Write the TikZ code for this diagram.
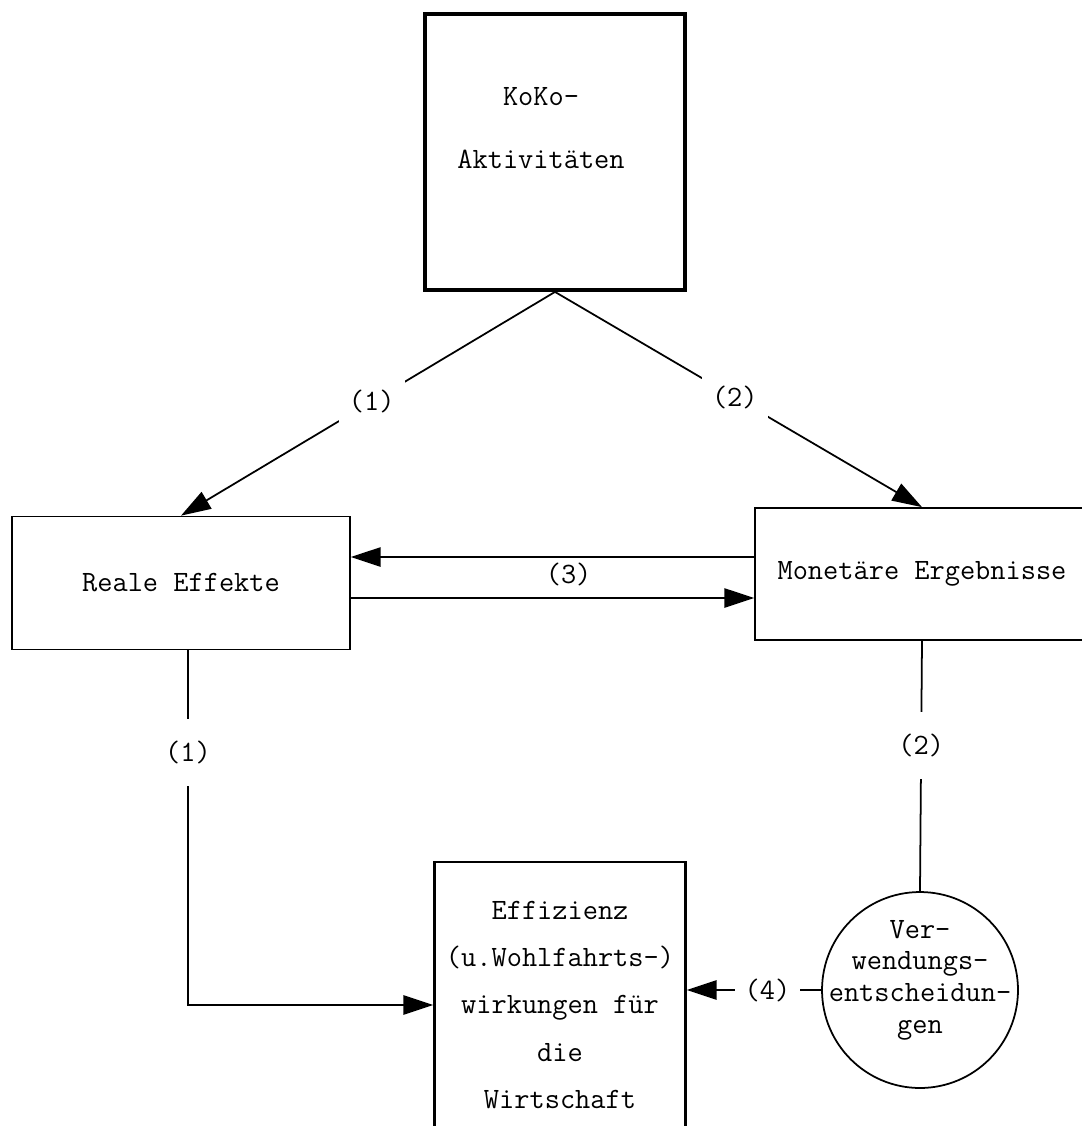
\documentclass[tikz,border=0pt]{standalone}
\usetikzlibrary{arrows.meta,calc}
\newcommand{\twfont}[1]{\ttfamily\fontsize{16.8pt}{#1}\selectfont}
\begin{document}
\begin{tikzpicture}
[x=0.02cm,y=-0.02cm,line width=1pt,%
  every node/.style={font=\twfont{20pt}},%
  box/.style={draw,line width=1pt,inner sep=0pt,align=center},%
  lab/.style={fill=white,inner xsep=0.2cm,inner ysep=0.44cm},%
  >={Triangle[length=17pt,width=11pt]}]
\useasboundingbox (0,0) rectangle (1082,1126);
%%
\node[box,line width=2.2pt,minimum width=5.2cm,minimum height=5.52cm] (koko) at (555,152) {};
\node[align=center,font=\twfont{35.7pt}] (kokotext) at (541,128) {KoKo-\\Aktivitäten};
%%
\node[box,minimum width=6.76cm,minimum height=2.66cm] (real) at (181,583) {Reale Effekte};
\node[box,minimum width=6.68cm,minimum height=2.64cm] (monetaer) at (922,574) {Monetäre Ergebnisse};
%%
\node[box,line width=1.5pt,minimum width=5.02cm,minimum height=5.72cm,font=\twfont{27pt}]
  (effizienz) at (560,1005) {Effizienz\\(u.Wohlfahrts-)\\wirkungen für\\die\\Wirtschaft};
\node[draw,circle,minimum size=3.92cm] (verw) at (920,990) {};
\node[align=center,font=\twfont{18pt}] (verwtext) at (920,980) {Ver-\\wendungs-\\entscheidun-\\gen};
%%
\coordinate (r3a) at ($(real.east)+(0,-26)$);
\coordinate (r3b) at ($(real.east)+(0,15)$);
\draw[->] (koko.south) -- node[lab,pos=0.49] (l1) {(1)} (real.north);
\draw[->] (koko.south) -- node[lab,pos=0.49] (l2) {(2)} (monetaer.north);
\draw[->] (r3a -| monetaer.west) -- (r3a);
\draw[->] (r3b) -- node[above=0.1cm,pos=0.54] (l3) {(3)} (r3b -| monetaer.west);
\draw[->] ($(real.south)+(7,0)$) |- node[lab,pos=0.144] (l1b) {(1)} (effizienz.west);
\draw (monetaer.south) -- node[lab,pos=0.417] (l2b) {(2)} (verw.north);
\draw[->] (verw.west) -- node[lab,pos=0.4] (l4) {(4)} (verw.west -| effizienz.east);
\end{tikzpicture}
\end{document}
